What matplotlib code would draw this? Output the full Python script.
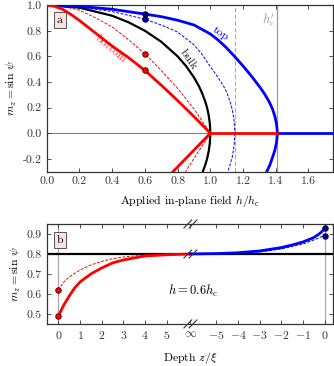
import matplotlib
matplotlib.use("Agg")
import matplotlib.pyplot as plt
from matplotlib.transforms import blended_transform_factory

plt.rcParams['font.family'] = 'cmr10'
plt.rcParams['mathtext.fontset'] = 'cm'
plt.rcParams['axes.formatter.use_mathtext'] = True
plt.rcParams['font.size'] = 8

# ---------- panel a data ----------
bulk_h = [0.0, 0.2, 0.4, 0.5, 0.6, 0.7, 0.8, 0.85, 0.9, 0.93, 0.95, 0.97, 0.98, 0.99, 0.997, 1.0]
bulk_m = [1.0, 0.98, 0.917, 0.866, 0.8, 0.714, 0.6, 0.527, 0.436, 0.368, 0.312, 0.243, 0.2, 0.141, 0.077, 0.0]
bulk_neg_h = [1.0, 0.997, 0.99, 0.98, 0.97, 0.954]
bulk_neg_m = [0.0, -0.077, -0.141, -0.2, -0.243, -0.3]

top_h = [0.0, 0.2, 0.4, 0.6, 0.7, 0.8, 0.9, 1.0, 1.05, 1.1, 1.15, 1.2, 1.25, 1.3, 1.33, 1.36, 1.38, 1.395, 1.405, 1.41]
top_m = [1.0, 0.99, 0.968, 0.93, 0.91, 0.882, 0.845, 0.775, 0.725, 0.665, 0.597, 0.525, 0.448, 0.365, 0.31, 0.245, 0.19, 0.13, 0.07, 0.0]
top_neg_h = [1.41, 1.405, 1.395, 1.38, 1.365, 1.345]
top_neg_m = [0.0, -0.07, -0.13, -0.19, -0.245, -0.3]

topd_h = [0.0, 0.2, 0.4, 0.6, 0.7, 0.8, 0.9, 0.95, 1.0, 1.05, 1.08, 1.1, 1.12, 1.135, 1.145, 1.15]
topd_m = [1.0, 0.985, 0.95, 0.89, 0.845, 0.79, 0.69, 0.615, 0.52, 0.43, 0.37, 0.32, 0.25, 0.18, 0.1, 0.0]
topd_neg_h = [1.15, 1.145, 1.135, 1.12, 1.107]
topd_neg_m = [0.0, -0.1, -0.18, -0.25, -0.3]

bot_h = [0.0, 0.05, 0.1, 0.15, 0.2, 0.3, 0.4, 0.5, 0.6, 0.7, 0.8, 0.9, 1.0]
bot_m = [1.0, 0.99, 0.965, 0.925, 0.88, 0.78, 0.68, 0.59, 0.49, 0.375, 0.255, 0.13, 0.0]
bot_neg_h = [1.0, 0.886, 0.772]
bot_neg_m = [0.0, -0.15, -0.3]

botd_h = [0.0, 0.1, 0.2, 0.3, 0.4, 0.5, 0.6, 0.7, 0.8, 0.9, 1.0]
botd_m = [1.0, 0.99, 0.96, 0.9, 0.83, 0.73, 0.62, 0.49, 0.35, 0.19, 0.0]
botd_neg_h = [1.0, 0.924, 0.848]
botd_neg_m = [0.0, -0.15, -0.3]

red_zero_h = [1.0, 1.41]
blue_zero_h = [1.41, 1.75]
zero_m = [0.0, 0.0]

h_sel = [0.6]
dots_blue = [0.93, 0.89]
dots_red = [0.62, 0.49]
h_dash_line = 1.15
h_c_prime = 1.41

# ---------- panel b data ----------
bulk_level = 0.8
red_z = [0.0, 0.25, 0.5, 0.75, 1.0, 1.5, 2.0, 2.5, 3.0, 3.5, 4.0, 5.0, 6.1]
red_m = [0.49, 0.545, 0.59, 0.63, 0.66, 0.70, 0.73, 0.755, 0.77, 0.78, 0.79, 0.796, 0.8]
redd_z = [0.0, 0.25, 0.5, 1.0, 1.5, 2.0, 2.5, 3.0, 4.0, 5.0, 6.1]
redd_m = [0.62, 0.66, 0.685, 0.72, 0.745, 0.763, 0.776, 0.785, 0.795, 0.8, 0.8]
blue_z = [-6.2, -5.0, -4.0, -3.0, -2.0, -1.5, -1.0, -0.5, -0.25, 0.0]
blue_m = [0.8, 0.802, 0.806, 0.815, 0.832, 0.845, 0.86, 0.882, 0.9, 0.925]
blued_z = [-6.2, -4.0, -3.0, -2.0, -1.0, -0.5, -0.25, 0.0]
blued_m = [0.8, 0.803, 0.81, 0.825, 0.85, 0.87, 0.88, 0.895]

left_ticks = [0, 1, 2, 3, 4, 5]
right_ticks = [-5, -4, -3, -2, -1, 0]
BREAK = 6.1
OFFSET = 12.3  # axis position of right-hand z = 0

BLUE = '#0000ff'
RED = '#ff0000'
DBLUE = '#000088'

fig = plt.figure(figsize=(3.34, 3.66), dpi=100)
axa = fig.add_axes([0.14, 0.531, 0.857, 0.455])
axb = fig.add_axes([0.14, 0.115, 0.857, 0.273])

# ---------- panel a ----------
axa.axhline(0, color='gray', lw=0.8, zorder=1)
axa.axvline(h_dash_line, color='#aaaaaa', lw=0.8, ls=(0, (4, 2)), zorder=1)
axa.axvline(h_c_prime, color='#999999', lw=0.9, zorder=1)

axa.plot(botd_h, botd_m, color=RED, lw=0.7, ls=(0, (3, 1.5)), zorder=2)
axa.plot(botd_neg_h, botd_neg_m, color=RED, lw=0.7, ls=(0, (3, 1.5)), zorder=2)
axa.plot(topd_h, topd_m, color=BLUE, lw=0.7, ls=(0, (3, 1.5)), zorder=2)
axa.plot(topd_neg_h, topd_neg_m, color=BLUE, lw=0.7, ls=(0, (3, 1.5)), zorder=2)
axa.plot(bulk_h, bulk_m, color='black', lw=1.6, zorder=3)
axa.plot(bulk_neg_h, bulk_neg_m, color='black', lw=1.6, zorder=3)
axa.plot(top_h, top_m, color=BLUE, lw=2.0, zorder=4)
axa.plot(top_neg_h, top_neg_m, color=BLUE, lw=2.0, zorder=4)
axa.plot(blue_zero_h, zero_m, color=BLUE, lw=2.0, zorder=4)
axa.plot(bot_h, bot_m, color=RED, lw=2.0, zorder=5)
axa.plot(bot_neg_h, bot_neg_m, color=RED, lw=2.0, zorder=5)
axa.plot(red_zero_h, zero_m, color=RED, lw=2.0, zorder=5)

axa.plot(h_sel * 2, dots_blue, 'o', ms=4, mfc=DBLUE, mec='#000040', mew=0.6, zorder=6)
axa.plot(h_sel * 2, dots_red, 'o', ms=4, mfc=RED, mec='#400000', mew=0.6, zorder=6)

axa.text(1.06, 0.78, 'top', color=BLUE, rotation=-33, ha='center', va='center', fontsize=8.5)
axa.text(0.866, 0.575, 'bulk', color='#222222', rotation=-55, ha='center', va='center', fontsize=8.5)
axa.text(0.39, 0.655, 'bottom', color='#ff4040', rotation=-40, ha='center', va='center', fontsize=8.5)
axa.text(1.395, 0.88, r"$h_\mathrm{c}'$", color='#999999', ha='right', va='center', fontsize=9)

axa.set_xlim(0, 1.75)
axa.set_ylim(-0.3, 1.0)
axa.set_xticks([0.0, 0.2, 0.4, 0.6, 0.8, 1.0, 1.2, 1.4, 1.6])
axa.set_yticks([-0.2, 0.0, 0.2, 0.4, 0.6, 0.8, 1.0])
axa.xaxis.set_major_formatter(matplotlib.ticker.FormatStrFormatter('%.1f'))
axa.yaxis.set_major_formatter(matplotlib.ticker.FormatStrFormatter('%.1f'))
axa.tick_params(direction='in', top=True, right=True, length=3, width=0.6, labelsize=8.5, colors='#333333')
for s in axa.spines.values():
    s.set_linewidth(0.9)
    s.set_color('#333333')
axa.set_xlabel(r'Applied in-plane field $h/h_\mathrm{c}$', fontsize=8.5, labelpad=5)
axa.set_ylabel(r'$m_z = \sin\,\psi$', fontsize=8.5, labelpad=3)
axa.text(0.035, 0.91, 'a', transform=axa.transAxes, ha='left', va='center', fontsize=8.5,
         bbox=dict(boxstyle='square,pad=0.25', fc='#fde0e0', ec='#555555', lw=0.7))

# ---------- panel b ----------
axb.axvline(0, color='#aaaaaa', lw=0.9, zorder=1)
axb.axvline(OFFSET, color='#aaaaaa', lw=0.9, zorder=1)
axb.axhline(bulk_level, color='black', lw=1.6, zorder=2)

axb.plot(redd_z, redd_m, color=RED, lw=0.7, ls=(0, (3, 1.5)), zorder=3)
axb.plot(red_z, red_m, color=RED, lw=2.0, zorder=4)
axb.plot([z + OFFSET for z in blued_z], blued_m, color=BLUE, lw=0.7, ls=(0, (3, 1.5)), zorder=3)
axb.plot([z + OFFSET for z in blue_z], blue_m, color=BLUE, lw=2.0, zorder=4)

axb.plot([0, 0], dots_red, 'o', ms=4, mfc=RED, mec='#400000', mew=0.6, zorder=6)
axb.plot([OFFSET, OFFSET], dots_blue, 'o', ms=4, mfc=DBLUE, mec='#000040', mew=0.6, zorder=6)

axb.text(5.05, 0.615, r'$h = 0.6h_\mathrm{c}$', fontsize=9, ha='left', va='center')

axb.set_xlim(-0.54, 12.69)
axb.set_ylim(0.45, 0.95)
ticks = left_ticks + [BREAK] + [t + OFFSET for t in right_ticks]
labels = ['$%d$' % t for t in left_ticks] + [r'$\infty$'] + ['$%d$' % t for t in right_ticks]
axb.set_xticks(ticks)
axb.set_xticklabels(labels)
axb.set_yticks([0.5, 0.6, 0.7, 0.8, 0.9])
axb.yaxis.set_major_formatter(matplotlib.ticker.FormatStrFormatter('%.1f'))
axb.tick_params(direction='in', top=True, right=True, length=3, width=0.6, labelsize=8.5, colors='#333333')
for s in axb.spines.values():
    s.set_linewidth(0.9)
    s.set_color('#333333')
axb.set_xlabel(r'Depth $z/\xi$', fontsize=8.5, labelpad=7)
axb.set_ylabel(r'$m_z = \sin\,\psi$', fontsize=8.5, labelpad=3)
axb.text(0.035, 0.84, 'b', transform=axb.transAxes, ha='left', va='center', fontsize=8.5,
         bbox=dict(boxstyle='square,pad=0.25', fc='#fde0e0', ec='#555555', lw=0.7))

# break marks
tr = blended_transform_factory(axb.transData, axb.transAxes)
for yb in (0.0, 1.0):
    for dx in (-0.12, 0.12):
        axb.plot([BREAK + dx - 0.18, BREAK + dx + 0.18], [yb - 0.04, yb + 0.04], color='#333333',
                 lw=0.8, transform=tr, clip_on=False, zorder=7)
yb_line = (bulk_level - 0.45) / 0.5
for dx in (-0.12, 0.12):
    axb.plot([BREAK + dx - 0.18, BREAK + dx + 0.18], [yb_line - 0.04, yb_line + 0.04], color='#333333',
             lw=0.8, transform=tr, clip_on=False, zorder=7)

fig.savefig('out.png', dpi=100)
